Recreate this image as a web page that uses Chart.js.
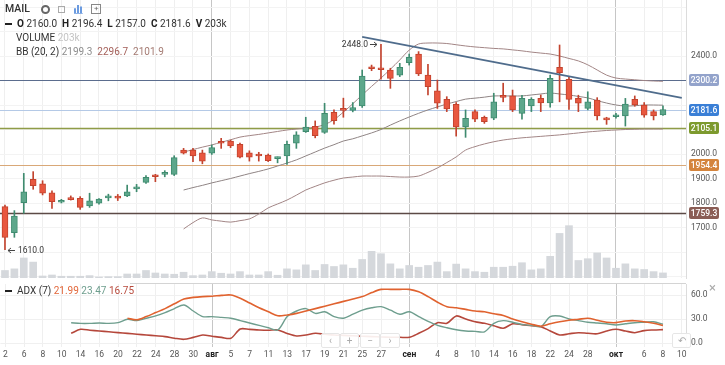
<!DOCTYPE html>
<html>
<head>
<meta charset="utf-8">
<script src="https://cdn.jsdelivr.net/npm/chart.js@4.4.0/dist/chart.umd.min.js"></script>
<style>
  html, body { margin: 0; padding: 0; background: #fff; }
  body { width: 725px; height: 365px; position: relative; overflow: hidden; font-family: Roboto, "Open Sans", sans-serif; color: #333; }
  canvas { position: absolute; left: 0; }
  #priceChart { top: 0; }
  #adxChart { top: 282px; }
  .hdr { position: absolute; font-size: 10px; white-space: nowrap; line-height: 12px; }
  .hdr b { font-weight: 700; color: #222; }
  .dash { display: inline-block; width: 7px; height: 2px; background: #222; vertical-align: middle; margin-right: 5px; }
  .ico { display: inline-block; vertical-align: middle; margin-left: 6px; }
  .btn { position: absolute; top: 333px; height: 13px; border: 1px solid #e6e6e6; border-radius: 2px; background: rgba(255,255,255,0.9); color: #aaa; font-size: 10px; line-height: 13px; text-align: center; }
</style>
</head>
<body>
<canvas id="priceChart" width="725" height="282"></canvas>
<canvas id="adxChart" width="725" height="83"></canvas>

<div class="hdr" style="left:5px;top:3px;font-size:10.5px">
  <span style="font-weight:500">MAIL</span>
  <span class="ico" style="width:5px;height:5px;border:2px solid #666;border-radius:50%;margin-left:8px"></span>
  <span class="ico" style="width:5px;height:5px;border:1px solid #aaa"></span>
  <span class="ico" style="width:9px;height:8px;border-bottom:1px solid #6b9be0;background:linear-gradient(to right,#6b9be0 0 2px,transparent 2px 3px,#6b9be0 3px 5px,transparent 5px 6px,#6b9be0 6px 8px,transparent 8px);clip-path:polygon(0 40%,30% 40%,30% 0,60% 0,60% 20%,100% 20%,100% 100%,0 100%)"></span>
  <span class="ico" style="width:8px;height:8px;border:1px solid #888;font-size:8px;line-height:8px;text-align:center;color:#666">+</span>
</div>
<div class="hdr" id="ohlc" style="left:5px;top:18px"></div>
<div class="hdr" id="volHdr" style="left:16px;top:32px"></div>
<div class="hdr" id="bbHdr" style="left:16px;top:46px"></div>
<div class="hdr" id="adxHdr" style="left:5px;top:285px"></div>

<div class="btn" style="left:321px;width:17px">&lsaquo;</div>
<div class="btn" style="left:340px;width:17px">+</div>
<div class="btn" style="left:360px;width:18px">&minus;</div>
<div class="btn" style="left:380px;width:18px">&rsaquo;</div>
<div class="btn" style="left:672px;width:17px">&#8630;</div>
<div class="hdr" style="left:709px;top:282px;font-size:13px;color:#aaa">&times;</div>

<script>
// trading days, 2 Jul - 8 Oct 2020
const dates = [
  '02.07','03.07','06.07','07.07','08.07','09.07','10.07','13.07','14.07','15.07','16.07','17.07',
  '20.07','21.07','22.07','23.07','24.07','27.07','28.07','29.07','30.07','31.07',
  '03.08','04.08','05.08','06.08','07.08','10.08','11.08','12.08','13.08','14.08',
  '17.08','18.08','19.08','20.08','21.08','24.08','25.08','26.08','27.08','28.08','31.08',
  '01.09','02.09','03.09','04.09','07.09','08.09','09.09','10.09','11.09','14.09','15.09',
  '16.09','17.09','18.09','21.09','22.09','23.09','24.09','25.09','28.09','29.09','30.09',
  '01.10','02.10','05.10','06.10','07.10','08.10'
];

const open  = [1785,1679,1801,1897,1878,1842,1803,1816,1819,1788,1799,1821,1824,1829,1858,1884,1914,1917,1917,2016,
               2016,2005,2003,2047,2053,2040,2005,1994,1996,1981,1992,2044,2091,2113,2088,2170,2186,2178,2196,2352,
               2352,2343,2322,2373,2408,2322,2258,2223,2203,2111,2173,2150,2146,2237,2237,2166,2196,2227,2209,2354,
               2305,2227,2186,2220,2146,2152,2155,2223,2200,2173,2160.0];
const high  = [1792,1769,1921,1928,1891,1850,1815,1829,1826,1840,1818,1836,1835,1873,1876,1912,1917,1932,1993,2023,
               2023,2016,2037,2064,2057,2045,2013,2007,2000,1988,2053,2091,2150,2135,2207,2180,2228,2210,2343,2363,
               2448,2350,2370,2408,2418,2366,2302,2234,2210,2180,2180,2155,2248,2289,2261,2240,2230,2241,2322,2445,
               2315,2240,2254,2230,2150,2166,2227,2237,2210,2180,2196.4];
const low   = [1610,1660,1758,1856,1833,1778,1800,1812,1774,1782,1795,1809,1810,1826,1846,1880,1887,1907,1912,2000,
               1969,1960,1998,2023,2026,1984,1971,1971,1969,1964,1958,2023,2088,2066,2084,2122,2150,2172,2190,2340,
               2305,2268,2316,2363,2320,2241,2186,2173,2073,2068,2132,2125,2140,2213,2173,2142,2173,2173,2191,2213,
               2182,2173,2180,2139,2121,2146,2114,2195,2150,2139,2157.0];
const close = [1660,1747,1846,1871,1840,1805,1807,1814,1782,1809,1816,1824,1820,1846,1861,1905,1907,1919,1985,2003,
               1992,1971,2026,2044,2033,1987,1987,1992,1973,1985,2040,2078,2110,2075,2166,2136,2178,2190,2318,2348,
               2344,2309,2354,2395,2327,2275,2207,2184,2111,2146,2142,2132,2213,2231,2180,2227,2223,2209,2309,2332,
               2223,2207,2213,2155,2139,2157,2204,2200,2159,2155,2181.6];

// volume, thousands
const volume = [300,365,800,635,80,120,70,70,70,95,40,55,55,160,160,300,200,160,150,230,
                95,120,255,190,160,255,120,120,255,110,365,325,525,300,540,460,525,390,740,1065,
                970,565,365,500,430,500,635,255,555,365,255,230,430,430,470,610,325,365,865,1780,
                2090,700,770,1000,800,390,565,365,340,255,203];

// Bollinger bands (20, 2)
const N19 = Array(19).fill(null);
const bbUpper = N19.concat([2008,2018,2028,2037,2048,2058,2069,2075,2080,2086,2092,2098,2102,2106,2110,2120,2140,2171,2205,2241,
  2276,2310,2346,2384,2424,2449,2453,2453,2451,2446,2441,2437,2434,2431,2429,2425,2421,2416,2412,2408,
  2400,2390,2380,2364,2343,2322,2310,2306,2303,2300,2298,2296.7]);
const bbMiddle = N19.concat([1853,1863,1872,1882,1891,1900,1910,1920,1929,1939,1951,1963,1976,1992,2008,2024,2038,2053,2062,2074,
  2086,2100,2118,2135,2151,2166,2180,2192,2204,2214,2224,2228,2232,2237,2237,2237,2237,2241,2245,2249,
  2245,2241,2235,2229,2218,2208,2200,2196,2197,2200,2200,2199.3]);
const bbLower = N19.concat([1694,1720,1739,1731,1726,1722,1728,1735,1755,1780,1796,1812,1832,1853,1868,1882,1893,1902,1906,1910,
  1910,1910,1908,1906,1906,1910,1925,1943,1965,1988,2016,2030,2041,2050,2057,2062,2066,2069,2072,2075,
  2078,2082,2086,2090,2093,2096,2098,2100,2101,2102,2102,2101.9]);

// ADX (7)
const diPlus = Array(7).fill(null).concat([25.4,24.5,24.5,25,24.5,25.5,29.6,28,31,34,38,43,47.5,40,33,33,32,31,28,25,
  22,19,16.3,33,40,43,37,39,33,31,36,41,44,45.4,41,36,39,33,27,22,19,16.5,15,14.5,14,24.6,28,26,23,22,
  20.5,32.9,33.7,30,28,26,25,24,22.5,24,25.4,26,26.6,23.47]);
const diMinus = Array(7).fill(null).concat([12.1,17.1,16,15,14,13,12,11,10,9,8,6,4.6,7,10,8.5,7,5.9,17.5,17,
  16.3,16,16.3,12,8.8,10,12.1,11,10,9.5,9,8.5,8,7.5,7.2,7.1,7.1,12.1,18,25.4,24.6,33.8,30,26.5,24.6,21.5,
  18.4,24,23,21.5,20.4,15,10,11.5,12.9,12.1,11.5,15,17.1,15,12.9,15.5,16.3,16.75]);
const adx = Array(13).fill(null).concat([31,29,33,38,43,49,55,57,58,58.5,59.5,60,56,50,44,39,34,35,37,40,
  43,46,49,52,55,58,63,67,67,67,67,64,58,51,45.4,44,42,40,39,36.5,34.5,30,26.5,23.5,21,24,26.6,28.5,29.6,30.9,
  28.5,26,25.5,27.5,27.9,26.5,24.6,21.99]);

// drawn levels and trend line
const levels      = [2300.2, 2181.6, 2105.1, 1954.4, 1759.3];
const levelLine   = ['#5b6d8e', '#b4c9e6', '#8f9c47', '#d9a878', '#5c4a46'];
const levelWidth  = [1.2, 1, 1.5, 1, 1.5];
const levelBox    = ['#93a3cb', '#3a7fd6', '#7d9a2e', '#d4843c', '#8a5d55'];
const trendX = [38, 72];
const trendY = [2478, 2229];

// axes
const tickPos  = [0,2,4,6,8,10,12,14,16,18,20,22,24,26,28,30,32,34,36,38,40,43,46,48,50,52,54,56,58,60,62,65,68,70,72];
const tickText = ['2','6','8','10','14','16','20','22','24','28','30','авг','5','7','11','13','17','19','21','25','27',
                  'сен','4','8','10','14','16','18','22','24','28','окт','6','8','10'];
const monthPos = [22, 43, 65];
const priceTicks = [2400, 2000, 1900, 1800, 1700];
const priceGrid  = [2600, 2500, 2400, 2300, 2200, 2100, 2000, 1900, 1800, 1700, 1600, 1500];
const adxTicks = [0, 30, 60];

const xMin = -0.53, xMax = 72.45;
const priceMin = 1493.9, priceMax = 2628.6;
const volMax = 11100;
const adxMin = -5, adxMax = 73.75;

const GREEN = '#5da78b', GREEN_EDGE = '#3f8b6f';
const RED = '#e8573f', RED_EDGE = '#c2432e';
const FONT = 'Roboto, "Open Sans", sans-serif';

const idx = close.map((_, i) => i);
const up = i => close[i] >= open[i];
const last = close.length - 1;

// header texts
document.getElementById('ohlc').innerHTML =
  '<span class="dash"></span><b>O</b> ' + open[last].toFixed(1) + ' &nbsp;<b>H</b> ' + high[last].toFixed(1) +
  ' &nbsp;<b>L</b> ' + low[last].toFixed(1) + ' &nbsp;<b>C</b> ' + close[last].toFixed(1) + ' &nbsp;<b>V</b> ' + volume[last] + 'k';
document.getElementById('volHdr').innerHTML = 'VOLUME <span style="color:#c4c4c4">' + volume[last] + 'k</span>';
document.getElementById('bbHdr').innerHTML = 'BB (20, 2) <span style="color:#8d8d8d">' + bbMiddle[last].toFixed(1) +
  '</span> &nbsp;<span style="color:#a4605a">' + bbUpper[last].toFixed(1) + '</span> &nbsp;<span style="color:#a47a72">' +
  bbLower[last].toFixed(1) + '</span>';
document.getElementById('adxHdr').innerHTML = '<span class="dash"></span>ADX (7) <span style="color:#e2673a">' +
  adx[last].toFixed(2) + '</span> <span style="color:#6e9e8e">' + diPlus[last].toFixed(2) +
  '</span> <span style="color:#b84a3c">' + diMinus[last].toFixed(2) + '</span>';

const xGrid = {
  color: c => monthPos.includes(c.tick && c.tick.value) ? '#c6c6c6' : '#efefef',
  drawTicks: false, offset: false
};

// right-hand value labels, drawn by hand so the axis adds no padding
function drawAxisLabels(chart, values, fmt) {
  const { ctx, chartArea: a, scales: { y } } = chart;
  ctx.save();
  ctx.font = '8.5px ' + FONT;
  ctx.fillStyle = '#555';
  ctx.textAlign = 'left';
  ctx.textBaseline = 'middle';
  values.forEach(v => ctx.fillText(fmt(v), a.right + 5, y.getPixelForValue(v)));
  ctx.restore();
}

const pricePlugin = {
  id: 'priceExtras',
  beforeDatasetsDraw(chart) {
    const { ctx, chartArea: a, scales: { y } } = chart;
    ctx.save();
    levels.forEach((v, k) => {
      const py = Math.round(y.getPixelForValue(v)) + 0.5;
      ctx.strokeStyle = levelLine[k];
      ctx.lineWidth = levelWidth[k];
      ctx.beginPath(); ctx.moveTo(a.left, py); ctx.lineTo(a.right, py); ctx.stroke();
    });
    ctx.restore();
  },
  afterDraw(chart) {
    const { ctx, chartArea: a, scales: { x, y } } = chart;
    drawAxisLabels(chart, priceTicks, v => v.toFixed(1));
    ctx.save();
    ctx.font = '500 8.5px ' + FONT;
    ctx.textAlign = 'center';
    ctx.textBaseline = 'middle';
    levels.forEach((v, k) => {
      const py = Math.round(y.getPixelForValue(v));
      ctx.fillStyle = levelBox[k];
      ctx.beginPath(); ctx.roundRect(a.right + 3, py - 6, 30, 12, 2); ctx.fill();
      ctx.fillStyle = '#fff';
      ctx.fillText(v.toFixed(1), a.right + 18, py + 0.5);
    });

    // max / min markers
    const hi = high.indexOf(Math.max(...high));
    const lo = low.indexOf(Math.min(...low));
    ctx.font = '8.5px ' + FONT;
    ctx.fillStyle = '#333';
    ctx.strokeStyle = '#444';
    ctx.lineWidth = 1;
    let px = x.getPixelForValue(hi), py = Math.round(y.getPixelForValue(high[hi])) + 0.5;
    ctx.textAlign = 'right';
    ctx.fillText(high[hi].toFixed(1), px - 13, py);
    ctx.beginPath();
    ctx.moveTo(px - 11, py); ctx.lineTo(px - 4, py);
    ctx.moveTo(px - 7, py - 2.5); ctx.lineTo(px - 4, py); ctx.lineTo(px - 7, py + 2.5);
    ctx.stroke();
    px = x.getPixelForValue(lo); py = Math.round(y.getPixelForValue(low[lo])) + 0.5;
    ctx.textAlign = 'left';
    ctx.beginPath();
    ctx.moveTo(px + 3, py); ctx.lineTo(px + 10, py);
    ctx.moveTo(px + 6, py - 2.5); ctx.lineTo(px + 3, py); ctx.lineTo(px + 6, py + 2.5);
    ctx.stroke();
    ctx.fillText(low[lo].toFixed(1), px + 13, py);
    ctx.restore();
  }
};

new Chart(document.getElementById('priceChart'), {
  type: 'line',
  data: {
    labels: dates,
    datasets: [
      {
        type: 'bar', label: 'body',
        data: idx.map(i => ({ x: i, y: [open[i], close[i]] })),
        backgroundColor: idx.map(i => up(i) ? GREEN : RED),
        borderColor: idx.map(i => up(i) ? GREEN_EDGE : RED_EDGE),
        borderWidth: 1, borderSkipped: false, barThickness: 6, minBarLength: 2, grouped: false, order: 1
      },
      {
        type: 'bar', label: 'wick',
        data: idx.map(i => ({ x: i, y: [low[i], high[i]] })),
        backgroundColor: idx.map(i => up(i) ? GREEN_EDGE : RED_EDGE),
        barThickness: 1, grouped: false, order: 2
      },
      {
        type: 'line', label: 'trend',
        data: trendX.map((v, k) => ({ x: v, y: trendY[k] })),
        borderColor: '#4f6c8c', borderWidth: 1.6, pointRadius: 0, order: 0
      },
      {
        type: 'line', label: 'BB upper',
        data: idx.map(i => ({ x: i, y: bbUpper[i] })),
        borderColor: '#a28585', borderWidth: 1, pointRadius: 0, tension: 0.3, order: 3
      },
      {
        type: 'line', label: 'BB middle',
        data: idx.map(i => ({ x: i, y: bbMiddle[i] })),
        borderColor: '#8f8484', borderWidth: 1, pointRadius: 0, tension: 0.3, order: 3
      },
      {
        type: 'line', label: 'BB lower',
        data: idx.map(i => ({ x: i, y: bbLower[i] })),
        borderColor: '#a28585', borderWidth: 1, pointRadius: 0, tension: 0.3, order: 3
      },
      {
        type: 'bar', label: 'volume', yAxisID: 'yVol',
        data: idx.map(i => ({ x: i, y: volume[i] })),
        backgroundColor: '#d5d8dc', barThickness: 7, grouped: false, order: 5
      }
    ]
  },
  options: {
    responsive: false,
    animation: false,
    devicePixelRatio: 1,
    layout: { padding: 0 },
    plugins: { legend: { display: false }, tooltip: { enabled: false } },
    scales: {
      x: {
        type: 'linear', min: xMin, max: xMax, offset: false,
        afterBuildTicks: s => { s.ticks = tickPos.map(v => ({ value: v })); },
        ticks: { display: false },
        grid: xGrid,
        border: { display: false },
        afterFit: s => { s.height = 4; }
      },
      y: {
        position: 'right', min: priceMin, max: priceMax,
        afterBuildTicks: s => { s.ticks = priceGrid.map(v => ({ value: v })); },
        ticks: { display: false },
        grid: { color: '#f3f3f3', drawTicks: false },
        border: { color: '#dcdcdc' },
        afterFit: s => { s.width = 39; }
      },
      yVol: { display: false, min: 0, max: volMax }
    }
  },
  plugins: [pricePlugin]
});

const adxPlugin = {
  id: 'adxExtras',
  afterDraw(chart) {
    const { ctx, chartArea: a } = chart;
    drawAxisLabels(chart, adxTicks, v => v.toFixed(1));
    ctx.save();
    ctx.strokeStyle = '#d4d4d4';
    ctx.lineWidth = 1;
    ctx.beginPath(); ctx.moveTo(130, a.top - 0.5); ctx.lineTo(a.right, a.top - 0.5); ctx.stroke();
    ctx.restore();
  }
};

new Chart(document.getElementById('adxChart'), {
  type: 'line',
  data: {
    labels: dates,
    datasets: [
      { label: 'ADX', data: idx.map(i => ({ x: i, y: adx[i] })), borderColor: '#e0622f', borderWidth: 1.6, pointRadius: 0, tension: 0.3 },
      { label: 'DI+', data: idx.map(i => ({ x: i, y: diPlus[i] })), borderColor: '#6e9e8e', borderWidth: 1.4, pointRadius: 0, tension: 0.3 },
      { label: 'DI-', data: idx.map(i => ({ x: i, y: diMinus[i] })), borderColor: '#b5473b', borderWidth: 1.6, pointRadius: 0, tension: 0.3 }
    ]
  },
  options: {
    responsive: false,
    animation: false,
    devicePixelRatio: 1,
    layout: { padding: { top: 2 } },
    plugins: { legend: { display: false }, tooltip: { enabled: false } },
    scales: {
      x: {
        type: 'linear', min: xMin, max: xMax, offset: false,
        afterBuildTicks: s => { s.ticks = tickPos.map(v => ({ value: v })); },
        ticks: {
          autoSkip: false, maxRotation: 0, padding: 3,
          callback: v => tickText[tickPos.indexOf(v)],
          font: c => ({ size: 8.5, family: FONT, weight: monthPos.includes(c.tick && c.tick.value) ? 'bold' : 'normal' }),
          color: c => monthPos.includes(c.tick && c.tick.value) ? '#222' : '#555'
        },
        grid: xGrid,
        border: { display: false },
        afterFit: s => { s.height = 18; }
      },
      y: {
        position: 'right', min: adxMin, max: adxMax,
        afterBuildTicks: s => { s.ticks = adxTicks.map(v => ({ value: v })); },
        ticks: { display: false },
        grid: { color: '#f0f0f0', drawTicks: false },
        border: { color: '#dcdcdc' },
        afterFit: s => { s.width = 39; }
      }
    }
  },
  plugins: [adxPlugin]
});
</script>
</body>
</html>
